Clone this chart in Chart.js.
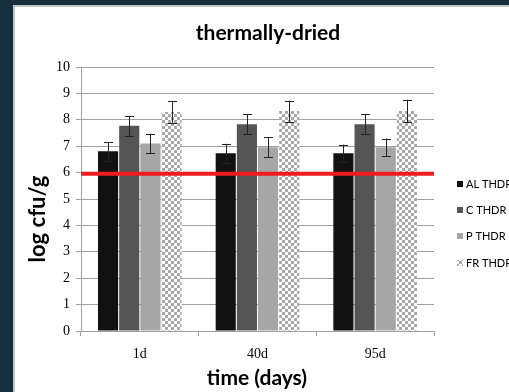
<!DOCTYPE html>
<html>
<head>
<meta charset="utf-8">
<script src="https://cdn.jsdelivr.net/npm/chart.js@4"></script>
<style>
  html, body { margin: 0; padding: 0; background: #16303f; }
  #wrap { width: 509px; height: 392px; position: relative; }
</style>
</head>
<body>
<div id="wrap"><canvas id="chart" width="509" height="392"></canvas></div>
<script>
const days = ["1d", "40d", "95d"];
const seriesNames = ["AL THDR", "C THDR", "P THDR", "FR THDR"];
const alValues = [6.81, 6.73, 6.73];
const cValues = [7.77, 7.83, 7.83];
const pValues = [7.1, 6.96, 6.96];
const frValues = [8.3, 8.33, 8.33];
const alErr = [0.36, 0.36, 0.33];
const cErr = [0.38, 0.38, 0.38];
const pErr = [0.37, 0.37, 0.33];
const frErr = [0.42, 0.4, 0.43];
const threshold = 5.96;
const yTicks = [0, 1, 2, 3, 4, 5, 6, 7, 8, 9, 10];

// checkerboard fill for the FR bars
function makeChecker() {
  const c = document.createElement("canvas");
  c.width = 6;
  c.height = 6;
  const g = c.getContext("2d");
  g.fillStyle = "#ffffff";
  g.fillRect(0, 0, 6, 6);
  g.fillStyle = "#a9a9a9";
  g.fillRect(0, 0, 3, 3);
  g.fillRect(3, 3, 3, 3);
  return g.createPattern(c, "repeat");
}
const checker = makeChecker();

const colours = ["#111111", "#555555", "#a6a6a6", checker];
const allValues = [alValues, cValues, pValues, frValues];
const allErr = [alErr, cErr, pErr, frErr];

const panelPlugin = {
  id: "panel",
  beforeDraw(chart) {
    const ctx = chart.ctx;
    ctx.save();
    ctx.fillStyle = "#16303f";
    ctx.fillRect(0, 0, chart.width, chart.height);
    ctx.fillStyle = "#ffffff";
    ctx.fillRect(13, 5, chart.width, chart.height);
    ctx.strokeStyle = "#c4c4c4";
    ctx.lineWidth = 2;
    ctx.strokeRect(14, 6, chart.width + 10, chart.height + 10);
    ctx.restore();
  },
};

const extrasPlugin = {
  id: "extras",
  afterDatasetsDraw(chart) {
    const ctx = chart.ctx;
    const y = chart.scales.y;
    const area = chart.chartArea;
    ctx.save();
    // error bars
    ctx.strokeStyle = "#222222";
    ctx.lineWidth = 1;
    allErr.forEach((errs, di) => {
      const meta = chart.getDatasetMeta(di);
      meta.data.forEach((bar, i) => {
        const v = allValues[di][i];
        const top = y.getPixelForValue(v + errs[i]);
        const bot = y.getPixelForValue(v - errs[i]);
        const x = Math.round(bar.x) + 0.5;
        ctx.beginPath();
        ctx.moveTo(x, top);
        ctx.lineTo(x, bot);
        ctx.moveTo(x - 4.5, Math.round(top) + 0.5);
        ctx.lineTo(x + 4.5, Math.round(top) + 0.5);
        ctx.moveTo(x - 4.5, Math.round(bot) + 0.5);
        ctx.lineTo(x + 4.5, Math.round(bot) + 0.5);
        ctx.stroke();
      });
    });
    // red threshold line
    const ty = y.getPixelForValue(threshold);
    ctx.strokeStyle = "#ee1c1c";
    ctx.lineWidth = 4;
    ctx.beginPath();
    ctx.moveTo(area.left, ty);
    ctx.lineTo(area.right, ty);
    ctx.stroke();
    ctx.restore();
  },
  afterDraw(chart) {
    const ctx = chart.ctx;
    ctx.save();
    ctx.fillStyle = "#000000";
    ctx.textAlign = "center";
    ctx.textBaseline = "middle";
    ctx.font = "bold 21px Lato";
    ctx.fillText("thermally-dried", 268, 33);
    ctx.fillText("time (days)", 257, 378);
    ctx.translate(38, 219);
    ctx.rotate(-Math.PI / 2);
    ctx.font = "bold 22px Lato";
    ctx.fillText("log cfu/g", 0, 0);
    ctx.restore();

    // legend
    ctx.save();
    ctx.font = "11px Lato";
    ctx.textAlign = "left";
    ctx.textBaseline = "middle";
    const legY = [184, 210, 236, 263];
    seriesNames.forEach((name, i) => {
      ctx.fillStyle = colours[i];
      ctx.fillRect(457, legY[i] - 3, 6, 6);
      ctx.fillStyle = "#000000";
      ctx.fillText(name, 466, legY[i]);
    });
    ctx.restore();
  },
};

const datasets = seriesNames.map((name, i) => ({
  label: name,
  data: allValues[i],
  backgroundColor: colours[i],
  barPercentage: 0.95,
  categoryPercentage: 0.72,
}));

new Chart(document.getElementById("chart"), {
  type: "bar",
  data: { labels: days, datasets: datasets },
  plugins: [panelPlugin, extrasPlugin],
  options: {
    responsive: false,
    animation: false,
    layout: { padding: { top: 67, right: 75, left: 0, bottom: 0 } },
    plugins: {
      legend: { display: false },
      title: { display: false },
      tooltip: { enabled: false },
    },
    scales: {
      y: {
        min: 0,
        max: 10,
        afterBuildTicks: (axis) => {
          axis.ticks = yTicks.map((v) => ({ value: v }));
        },
        afterFit: (axis) => {
          axis.width = 81;
        },
        ticks: {
          color: "#000000",
          font: { family: "Liberation Serif", size: 14 },
          padding: 6,
        },
        grid: { color: "#a0a0a0", tickLength: 5 },
        border: { color: "#a0a0a0" },
      },
      x: {
        afterFit: (axis) => {
          axis.height = 61;
        },
        ticks: {
          color: "#000000",
          font: { family: "Liberation Serif", size: 14 },
          padding: 10,
        },
        grid: { drawOnChartArea: false, color: "#a0a0a0", tickLength: 5 },
        border: { color: "#a0a0a0" },
      },
    },
  },
});
</script>
</body>
</html>
